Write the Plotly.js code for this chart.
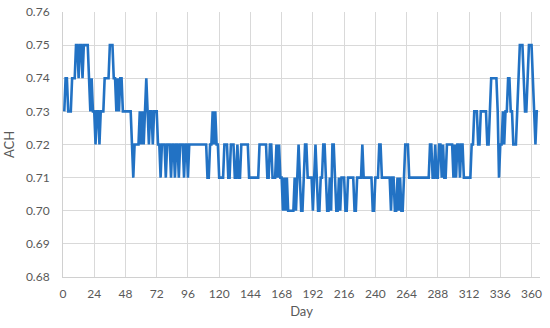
<!DOCTYPE html>
<html>
<head>
<meta charset="utf-8">
<script src="https://cdn.plot.ly/plotly-3.0.1.min.js"></script>
<style>html,body{margin:0;padding:0;background:#fff;}#chart{width:550px;height:328px;}</style>
</head>
<body>
<div id="chart"></div>
<script>
// Daily ACH values, day 1 .. 365
var achValues = [
  0.73,0.74,0.74,0.73,0.73,0.73,0.74,0.74,0.74,0.75,
  0.75,0.74,0.75,0.75,0.74,0.75,0.75,0.75,0.75,0.74,
  0.73,0.74,0.73,0.73,0.72,0.73,0.73,0.72,0.73,0.73,
  0.73,0.74,0.74,0.74,0.74,0.75,0.75,0.75,0.74,0.74,
  0.73,0.74,0.73,0.74,0.74,0.73,0.73,0.73,0.73,0.73,
  0.73,0.73,0.72,0.71,0.72,0.72,0.72,0.72,0.73,0.72,
  0.73,0.72,0.73,0.74,0.73,0.72,0.73,0.73,0.72,0.73,
  0.73,0.73,0.72,0.72,0.71,0.72,0.72,0.72,0.71,0.72,
  0.72,0.72,0.71,0.72,0.72,0.71,0.72,0.72,0.71,0.72,
  0.72,0.72,0.71,0.72,0.72,0.71,0.72,0.72,0.72,0.72,
  0.72,0.72,0.72,0.72,0.72,0.72,0.72,0.72,0.72,0.72,
  0.71,0.71,0.72,0.72,0.73,0.72,0.73,0.72,0.72,0.71,
  0.71,0.71,0.71,0.72,0.72,0.72,0.71,0.71,0.72,0.72,
  0.72,0.71,0.71,0.72,0.71,0.71,0.72,0.72,0.72,0.72,
  0.72,0.72,0.71,0.71,0.71,0.71,0.71,0.71,0.71,0.71,
  0.72,0.72,0.72,0.72,0.72,0.72,0.71,0.71,0.72,0.72,
  0.71,0.71,0.71,0.72,0.71,0.72,0.71,0.71,0.70,0.71,
  0.70,0.71,0.70,0.70,0.70,0.70,0.70,0.71,0.70,0.71,
  0.72,0.71,0.70,0.70,0.71,0.72,0.72,0.71,0.71,0.71,
  0.71,0.70,0.71,0.72,0.71,0.70,0.70,0.71,0.71,0.72,
  0.72,0.71,0.70,0.70,0.71,0.70,0.72,0.72,0.71,0.70,
  0.70,0.71,0.70,0.71,0.71,0.71,0.70,0.70,0.71,0.71,
  0.71,0.71,0.71,0.70,0.70,0.71,0.71,0.71,0.71,0.72,
  0.71,0.71,0.71,0.71,0.71,0.71,0.71,0.70,0.70,0.71,
  0.71,0.71,0.72,0.72,0.71,0.71,0.71,0.71,0.71,0.71,
  0.71,0.70,0.71,0.71,0.70,0.70,0.71,0.70,0.71,0.70,
  0.70,0.71,0.72,0.72,0.72,0.71,0.71,0.71,0.71,0.71,
  0.71,0.71,0.71,0.71,0.71,0.71,0.71,0.71,0.71,0.71,
  0.71,0.72,0.72,0.71,0.71,0.72,0.71,0.71,0.72,0.72,
  0.71,0.72,0.71,0.71,0.72,0.72,0.72,0.72,0.72,0.71,
  0.72,0.71,0.72,0.72,0.71,0.72,0.72,0.71,0.71,0.71,
  0.71,0.71,0.71,0.72,0.72,0.73,0.73,0.73,0.72,0.72,
  0.73,0.73,0.73,0.73,0.73,0.72,0.72,0.73,0.74,0.74,
  0.74,0.74,0.74,0.73,0.71,0.72,0.72,0.73,0.72,0.73,
  0.73,0.74,0.74,0.73,0.73,0.72,0.72,0.72,0.73,0.74,
  0.75,0.75,0.75,0.74,0.73,0.73,0.74,0.75,0.75,0.75,
  0.74,0.73,0.72,0.73,0.73
];
var days = achValues.map(function (v, i) { return i + 1; });
var xTickVals = [0, 24, 48, 72, 96, 120, 144, 168, 192, 216, 240, 264, 288, 312, 336, 360];
var yTickVals = [0.68, 0.69, 0.70, 0.71, 0.72, 0.73, 0.74, 0.75, 0.76];
var yTickText = ['0.68', '0.69', '0.70', '0.71', '0.72', '0.73', '0.74', '0.75', '0.76'];

var trace = {
  x: days,
  y: achValues,
  type: 'scatter',
  mode: 'lines',
  line: { color: '#2272c4', width: 2.6 },
  hoverinfo: 'x+y'
};

var fontFam = 'Lato, "Open Sans", sans-serif';
var layout = {
  width: 550,
  height: 328,
  margin: { l: 63, r: 10, t: 12, b: 51, pad: 0 },
  paper_bgcolor: '#ffffff',
  plot_bgcolor: '#ffffff',
  showlegend: false,
  font: { family: fontFam, size: 12, color: '#595959' },
  xaxis: {
    range: [0, 366.5],
    tickmode: 'array',
    tickvals: xTickVals,
    ticktext: xTickVals.map(String),
    showgrid: true,
    gridcolor: '#d9d9d9',
    gridwidth: 1,
    showline: true,
    linecolor: '#d0d0d0',
    linewidth: 1,
    zeroline: false,
    ticks: '',
    ticklabelstandoff: 6,
    tickfont: { family: fontFam, size: 12, color: '#595959' },
    title: { text: 'Day', font: { family: fontFam, size: 13, color: '#595959' }, standoff: 6 }
  },
  yaxis: {
    range: [0.68, 0.76],
    tickmode: 'array',
    tickvals: yTickVals,
    ticktext: yTickText,
    showgrid: true,
    gridcolor: '#d9d9d9',
    gridwidth: 1,
    showline: true,
    linecolor: '#d0d0d0',
    linewidth: 1,
    zeroline: false,
    ticks: '',
    ticklabelstandoff: 10,
    tickfont: { family: fontFam, size: 12, color: '#595959' },
    title: { text: 'ACH', font: { family: fontFam, size: 13, color: '#595959' }, standoff: 8 }
  }
};

Plotly.newPlot('chart', [trace], layout, { displayModeBar: false, staticPlot: true });
</script>
</body>
</html>
